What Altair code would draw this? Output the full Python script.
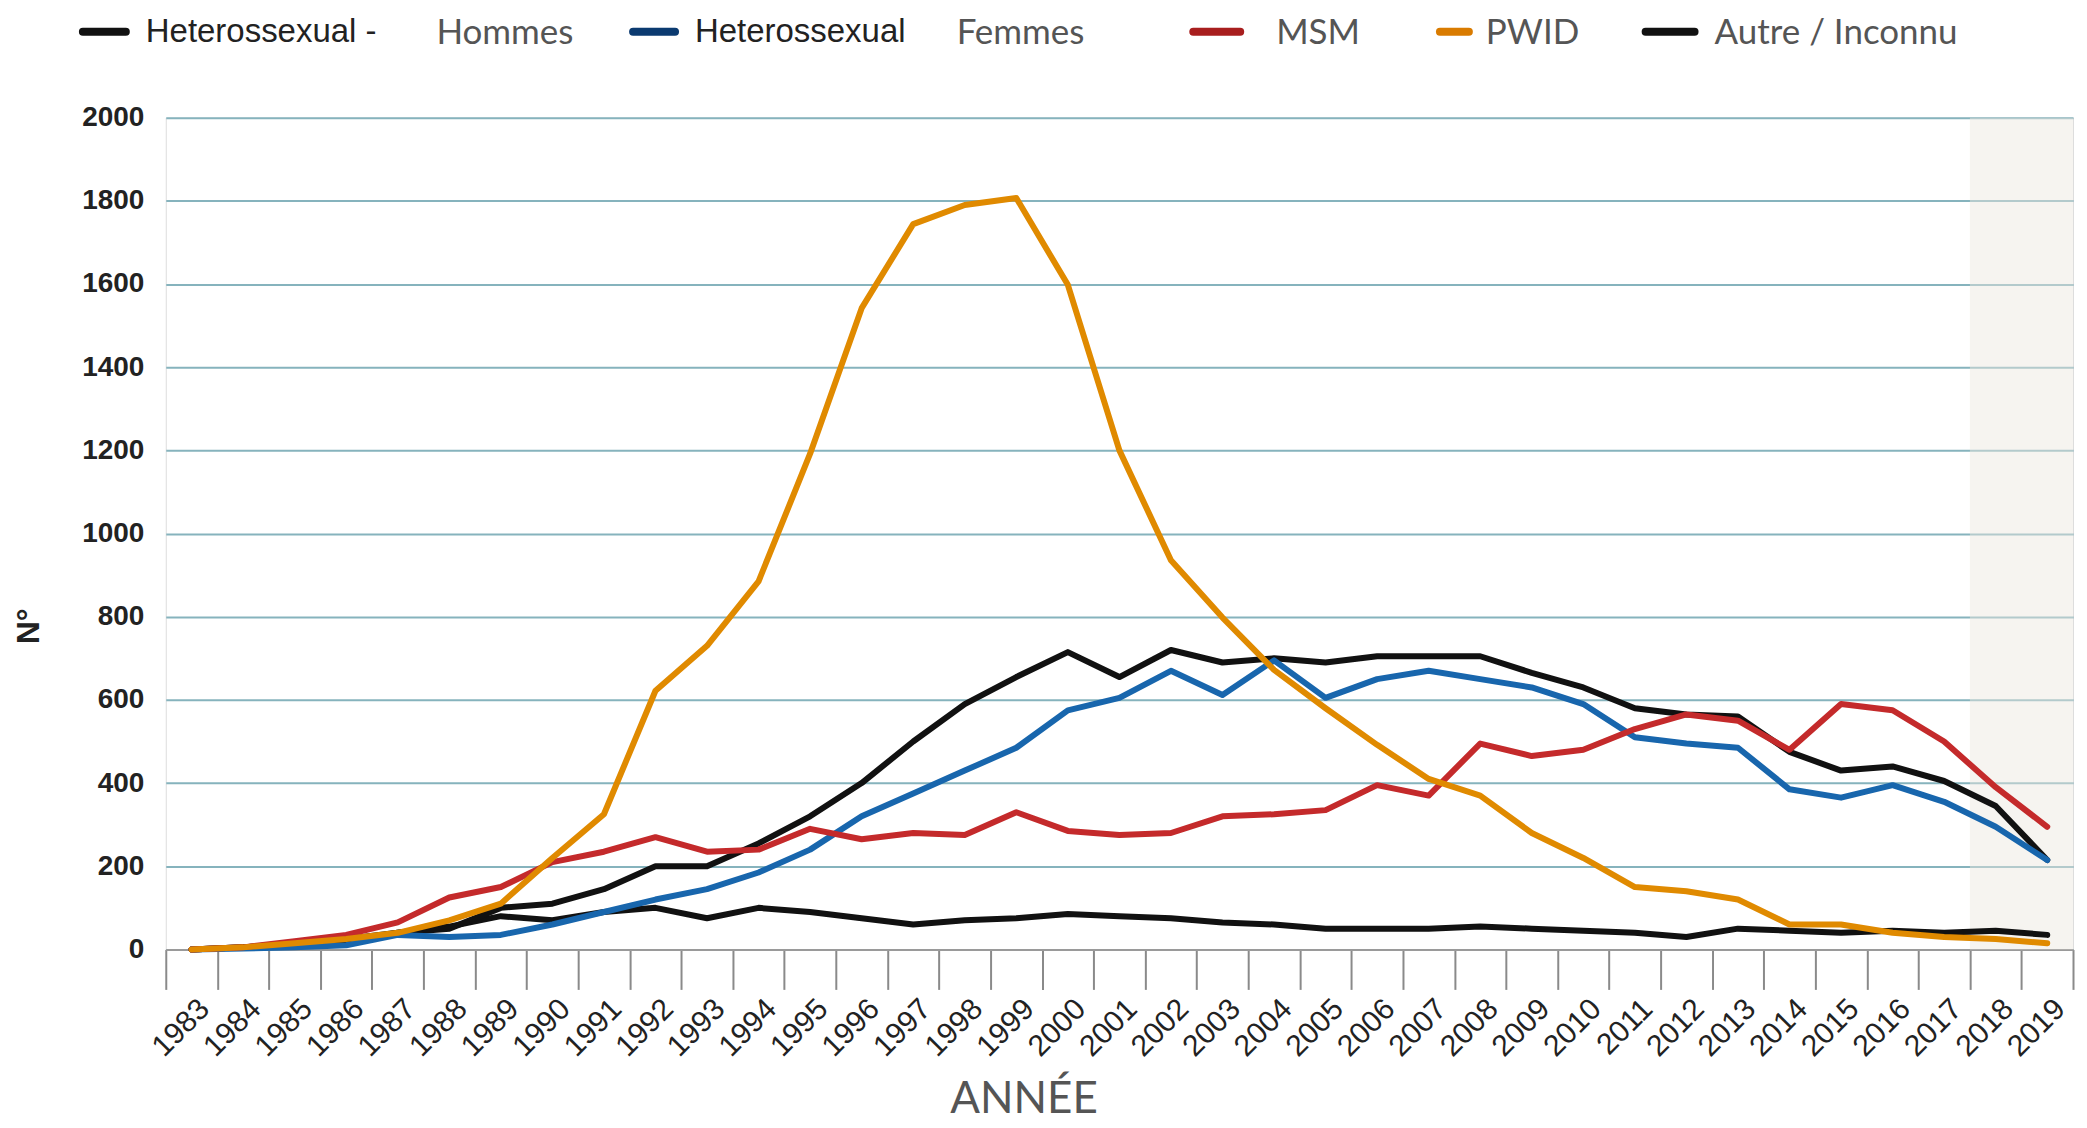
import altair as alt
import pandas as pd

# ---------------- data ----------------
years = list(range(1983, 2020))
series = ["Heterossexual - Hommes", "Heterossexual Femmes", "MSM", "PWID", "Autre / Inconnu"]

het_hommes = [0, 5, 10, 20, 40, 50, 100, 110, 145, 200, 200, 255, 320, 400, 500, 590, 655, 715, 655, 720,
              690, 700, 690, 705, 705, 705, 665, 630, 580, 565, 560, 475, 430, 440, 405, 345, 215]
het_femmes = [0, 2, 5, 10, 35, 30, 35, 60, 90, 120, 145, 185, 240, 320, 375, 430, 485, 575, 605, 670,
              612, 695, 605, 650, 670, 650, 630, 590, 510, 495, 485, 385, 365, 395, 355, 295, 215]
msm = [0, 5, 20, 35, 65, 125, 150, 210, 235, 270, 235, 240, 290, 265, 280, 275, 330, 285, 275, 280,
       320, 325, 335, 395, 370, 495, 465, 480, 530, 565, 550, 480, 590, 575, 500, 390, 295]
pwid = [0, 5, 15, 25, 40, 70, 110, 220, 325, 622, 730, 885, 1192, 1542, 1744, 1790, 1807, 1598, 1200, 936,
        798, 672, 580, 492, 410, 370, 280, 220, 150, 140, 120, 60, 60, 40, 30, 25, 15]
autre = [0, 5, 15, 25, 40, 55, 80, 70, 90, 100, 75, 100, 90, 75, 60, 70, 75, 85, 80, 75,
         65, 60, 50, 50, 50, 55, 50, 45, 40, 30, 50, 45, 40, 45, 40, 45, 35]

y_ticks = list(range(0, 2001, 200))
shade_start = [2017.5]
shade_end = [2019.5]

# legend content
leg_swatch = ["#111111", "#0b3a70", "#a81e1e", "#d97b00", "#111111"]
leg_main = ["Heterossexual -", "Heterossexual", "", "", ""]
leg_sub = ["Hommes", "Femmes", "MSM", "PWID", "Autre / Inconnu"]

# ---------------- styles ----------------
colors = ["#111111", "#1866ad", "#c42a2b", "#e08a00", "#111111"]
widths = [6, 6, 6, 6, 7]
draw_order = ["Autre / Inconnu", "Heterossexual - Hommes", "Heterossexual Femmes", "MSM", "PWID"]

values_by_series = dict(zip(series, [het_hommes, het_femmes, msm, pwid, autre]))
rows = []
for s in draw_order:
    for yr, v in zip(years, values_by_series[s]):
        rows.append({"year": yr, "value": v, "series": s})
df = pd.DataFrame(rows)

W, H = 1910, 833
boundaries = [yr - 0.5 for yr in years] + [years[-1] + 0.5]
xscale = alt.Scale(domain=[years[0] - 0.5, years[-1] + 0.5], nice=False, zero=False)

shade = alt.Chart(pd.DataFrame({"start": shade_start, "end": shade_end})).mark_rect(
    color="#ece7de", opacity=0.45
).encode(
    x=alt.X("start:Q", scale=xscale,
            axis=alt.Axis(orient="bottom", values=boundaries, labels=False, ticks=True, tickSize=40,
                          tickColor="#8a8a8a", tickWidth=2, domain=False, grid=False, title=None)),
    x2="end:Q",
    y=alt.value(0),
    y2=alt.value(H),
)

lines = alt.Chart(df).mark_line(strokeJoin="round", strokeCap="round").encode(
    x=alt.X("year:Q", scale=xscale,
            axis=alt.Axis(orient="bottom", values=years, format="d", labelAngle=315, ticks=False,
                          labelOverlap=False, labelBound=False, labelFlush=False,
                          labelPadding=44, labelOffset=2, labelFont="Liberation Sans", labelFontSize=30,
                          labelColor="#222222", domain=True, domainColor="#9a9a9a", domainWidth=2,
                          grid=False, title="ANNÉE", titleFont="Lato", titleFontSize=44,
                          titleFontWeight="normal", titleColor="#555555", titleX=859, titleY=163,
                          titleBaseline="alphabetic", titleAlign="center")),
    y=alt.Y("value:Q", scale=alt.Scale(domain=[0, 2000], nice=False),
            axis=alt.Axis(values=y_ticks, format="d", grid=True, gridColor="#86b3bd", gridWidth=2,
                          domain=False, ticks=False, labelPadding=22, labelFont="Liberation Sans",
                          labelFontSize=28, labelFontWeight="bold", labelColor="#222222",
                          title="N°", titleFont="Liberation Sans", titleFontSize=32,
                          titleFontWeight="bold", titleColor="#222222", titleX=-137, titleY=509,
                          titleAngle=270, titleBaseline="middle", titleAlign="center")),
    color=alt.Color("series:N", scale=alt.Scale(domain=series, range=colors), legend=None),
    strokeWidth=alt.StrokeWidth("series:N", scale=alt.Scale(domain=series, range=widths), legend=None),
)

# ---------------- custom legend ----------------
dummy = pd.DataFrame({"k": [0]})
sw_pos = [(-83, -40), (468, 510), (1029, 1076), (1276, 1305), (1482, 1531)]
main_x = [-20, 530, None, None, None]
sub_x = [271, 792, 1112, 1322, 1551]
leg_layers = []
for i in range(len(leg_sub)):
    leg_layers.append(
        alt.Chart(dummy).mark_rule(color=leg_swatch[i], strokeWidth=8, strokeCap="round").encode(
            x=alt.value(sw_pos[i][0]), x2=alt.value(sw_pos[i][1]), y=alt.value(-86))
    )
    if leg_main[i]:
        leg_layers.append(
            alt.Chart(dummy).mark_text(text=leg_main[i], font="Liberation Sans", fontSize=33,
                                       color="#222222", align="left", baseline="middle").encode(
                x=alt.value(main_x[i]), y=alt.value(-86))
        )
    leg_layers.append(
        alt.Chart(dummy).mark_text(text=leg_sub[i], font="Lato", fontSize=35, color="#555555",
                                   align="left", baseline="middle").encode(
            x=alt.value(sub_x[i]), y=alt.value(-85))
    )

chart = alt.layer(shade, lines, *leg_layers).resolve_axis(x="independent").properties(
    width=W, height=H,
    padding={"left": 158, "top": 109, "right": 6, "bottom": 174},
    autosize=alt.AutoSizeParams(type="none"),
).configure_view(stroke=None).configure(background="white")

chart.save("out.html", embed_options={"renderer": "svg", "actions": False})
